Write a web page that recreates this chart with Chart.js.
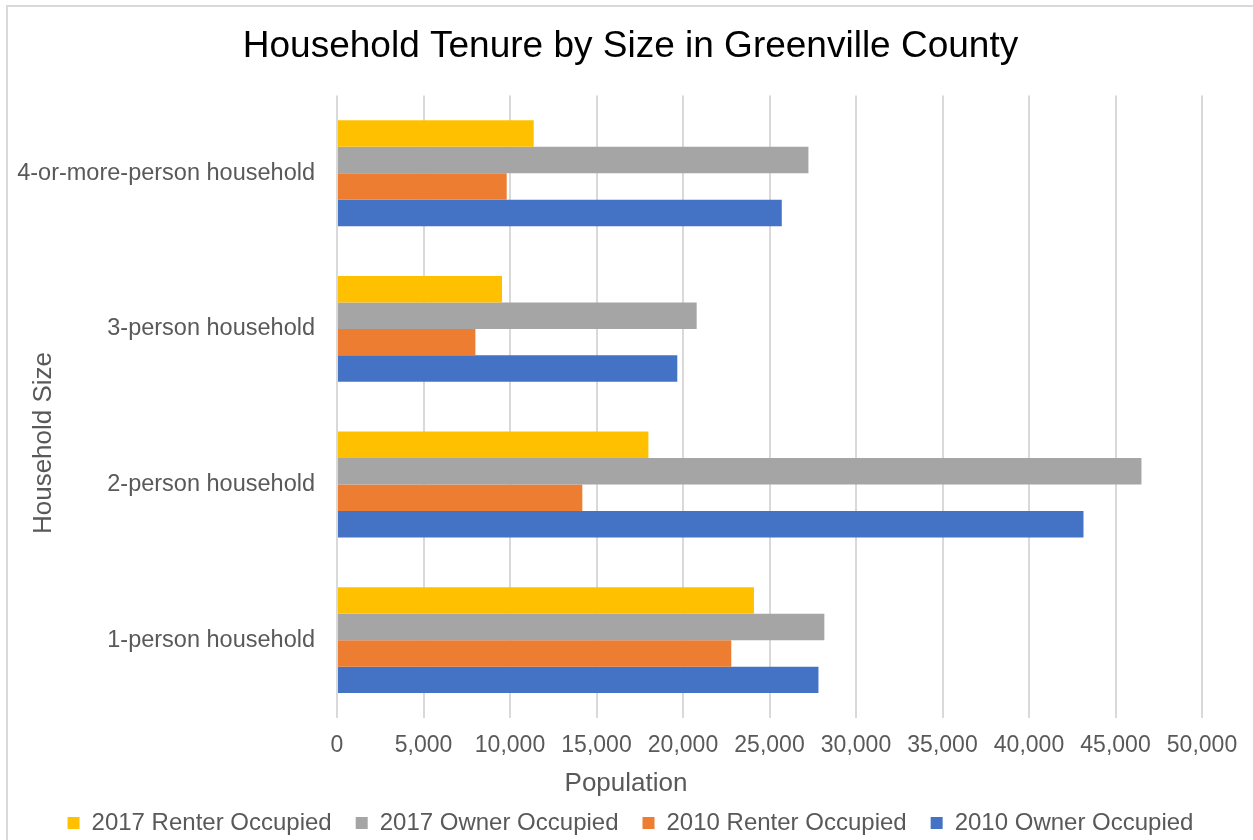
<!DOCTYPE html>
<html>
<head>
<meta charset="utf-8">
<title>Household Tenure by Size in Greenville County</title>
<script src="https://cdn.jsdelivr.net/npm/chart.js@4"></script>
<style>
  html, body { margin: 0; padding: 0; background: #fff; }
  #wrap { position: relative; width: 1253px; height: 840px; overflow: hidden; }
  #frame { position: absolute; left: 6px; top: 5px; width: 1260px; height: 860px; border: 2px solid #d9d9d9; box-sizing: border-box; }
  #chart { position: absolute; left: 0; top: 0; }
</style>
</head>
<body>
<div id="wrap">
  <div id="frame"></div>
  <canvas id="chart" width="1253" height="840"></canvas>
</div>
<script>
// categories, top to bottom
const sizes = ['4-or-more-person household', '3-person household', '2-person household', '1-person household'];

const renter2017 = [11370, 9540, 18000, 24100];
const owner2017 = [27250, 20790, 46500, 28170];
const renter2010 = [9810, 8000, 14180, 22790];
const owner2010 = [25710, 19670, 43150, 27830];

const xMax = 50000;
const xStep = 5000;

const FONT = '"Liberation Sans", Arial, sans-serif';
const GREY_TEXT = '#595959';

// axis titles centred the way the spreadsheet places them
const axisTitles = {
    id: 'axisTitles',
    afterDraw(chart) {
        const ctx = chart.ctx;
        ctx.save();
        ctx.fillStyle = GREY_TEXT;
        ctx.font = '26px ' + FONT;
        ctx.textAlign = 'center';
        ctx.textBaseline = 'middle';
        ctx.fillText('Population', 626, 784);
        ctx.translate(44, 443);
        ctx.rotate(-Math.PI / 2);
        ctx.fillText('Household Size', 0, 0);
        ctx.restore();
    }
};

const ctx = document.getElementById('chart').getContext('2d');
new Chart(ctx, {
    type: 'bar',
    data: {
        labels: sizes,
        datasets: [
            { label: '2017 Renter Occupied', data: renter2017, backgroundColor: '#FFC000' },
            { label: '2017 Owner Occupied', data: owner2017, backgroundColor: '#A5A5A5' },
            { label: '2010 Renter Occupied', data: renter2010, backgroundColor: '#ED7D31' },
            { label: '2010 Owner Occupied', data: owner2010, backgroundColor: '#4472C4' }
        ]
    },
    options: {
        indexAxis: 'y',
        responsive: false,
        animation: false,
        categoryPercentage: 0.68,
        barPercentage: 1,
        layout: { padding: { left: 8, right: 0, top: 0, bottom: -5 } },
        scales: {
            x: {
                min: 0,
                max: xMax,
                ticks: {
                    stepSize: xStep,
                    color: GREY_TEXT,
                    font: { family: FONT, size: 23 },
                    padding: 14,
                    maxRotation: 0,
                    callback: v => v.toLocaleString('en-US')
                },
                grid: { color: '#d9d9d9', lineWidth: 2, drawTicks: false },
                border: { display: false },
                afterFit(scale) {
                    scale.height = 69;
                    scale.paddingRight = 51;
                }
            },
            y: {
                ticks: {
                    color: GREY_TEXT,
                    font: { family: FONT, size: 23.5 },
                    padding: 14
                },
                grid: { display: false },
                border: { display: false },
                afterFit(scale) {
                    scale.width = 329;
                }
            }
        },
        plugins: {
            title: {
                display: true,
                text: 'Household Tenure by Size in Greenville County',
                color: '#000',
                font: { family: FONT, size: 37, weight: 'normal' },
                padding: { top: 25, bottom: 26 }
            },
            legend: {
                position: 'bottom',
                labels: {
                    color: GREY_TEXT,
                    font: { family: FONT, size: 24 },
                    boxWidth: 12,
                    boxHeight: 12,
                    padding: 24
                }
            },
            tooltip: { enabled: false }
        }
    },
    plugins: [axisTitles]
});
</script>
</body>
</html>
